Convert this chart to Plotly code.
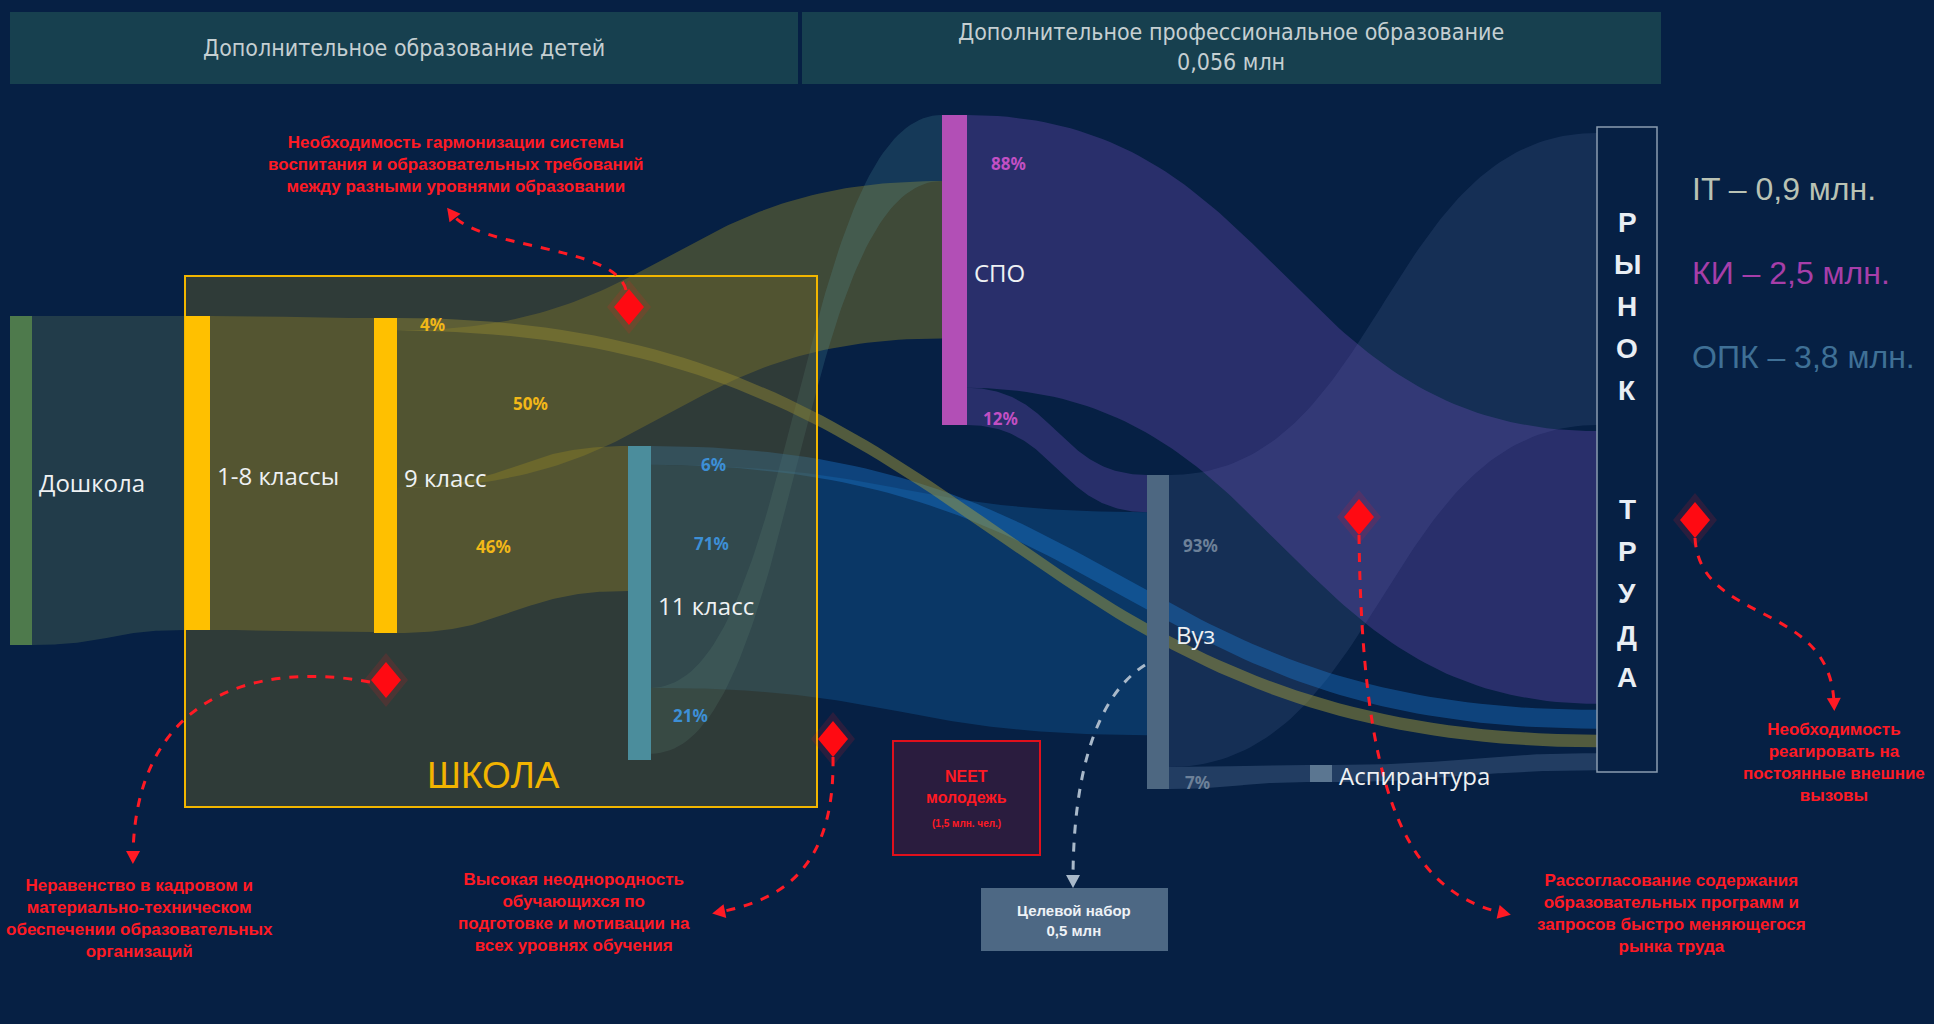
import numpy as np
import plotly.graph_objects as go

# ---------------- data ----------------
NODES = ["Дошкола", "1-8 классы", "9 класс", "11 класс", "СПО", "Вуз",
         "Аспирантура", "Рынок труда"]

FLOW_SOURCE = ["Дошкола", "1-8 классы", "9 класс", "9 класс", "9 класс",
               "11 класс", "11 класс", "11 класс", "СПО", "СПО",
               "Вуз", "Вуз", "Аспирантура"]
FLOW_TARGET = ["1-8 классы", "9 класс", "Рынок труда", "СПО", "11 класс",
               "Рынок труда", "Вуз", "СПО", "Рынок труда", "Вуз",
               "Рынок труда", "Аспирантура", "Рынок труда"]
FLOW_SHARE = [100, 100, 4, 50, 46, 6, 71, 21, 88, 12, 93, 7, 100]
FLOW_SHOW_LABEL = [False, False, True, True, True, True, True, True,
                   True, True, True, True, False]

MARKET_SECTORS = ["IT", "КИ", "ОПК"]
MARKET_DEMAND_MLN = [0.9, 2.5, 3.8]
DPO_MLN = 0.056
NEET_MLN = 1.5
TARGET_ADMISSION_MLN = 0.5

# ---------------- layout & style ----------------
W, H = 1934, 1024
BG = "#062044"

# x_left, x_right, y_top, y_bottom (page pixels)
NODE_BOX = {
    "Дошкола": (10, 32, 316, 645),
    "1-8 классы": (185, 210, 316, 630),
    "9 класс": (374, 397, 318, 633),
    "11 класс": (628, 651, 446, 760),
    "СПО": (942, 967, 115, 425),
    "Вуз": (1147, 1169, 475, 789),
    "Аспирантура": (1310, 1332, 765, 782),
    "Рынок труда": (1597, 1657, 127, 772),
}
NODE_COLOR = {
    "Дошкола": "#4e7a4c",
    "1-8 классы": "#ffc000",
    "9 класс": "#ffc000",
    "11 класс": "#4b8d9c",
    "СПО": "#b24fb6",
    "Вуз": "#4d6781",
    "Аспирантура": "#5b7691",
}
TARGET_ORDER = {
    "Рынок труда": ["Вуз", "СПО", "11 класс", "9 класс", "Аспирантура"],
    "СПО": ["11 класс", "9 класс"],
    "Вуз": ["СПО", "11 класс"],
}
TARGET_PAD = {"Рынок труда": 6}

FLOW_STYLE = {  # fill colour, drawing order
    ("Дошкола", "1-8 классы"): ("rgba(100,125,90,0.30)", 0),
    ("1-8 классы", "9 класс"): ("rgba(195,172,30,0.32)", 1),
    ("Вуз", "Рынок труда"): ("rgba(105,135,185,0.15)", 2),
    ("СПО", "Рынок труда"): ("rgba(120,82,195,0.31)", 3),
    ("СПО", "Вуз"): ("rgba(120,82,195,0.30)", 4),
    ("9 класс", "СПО"): ("rgba(195,172,30,0.30)", 5),
    ("9 класс", "11 класс"): ("rgba(195,172,30,0.32)", 6),
    ("11 класс", "Вуз"): ("rgba(20,115,190,0.28)", 7),
    ("11 класс", "СПО"): ("rgba(95,170,185,0.18)", 8),
    ("Вуз", "Аспирантура"): ("rgba(100,130,170,0.30)", 9),
    ("Аспирантура", "Рынок труда"): ("rgba(100,130,170,0.30)", 10),
    ("11 класс", "Рынок труда"): ("rgba(30,125,215,0.38)", 11),
    ("9 класс", "Рынок труда"): ("rgba(175,165,55,0.45)", 12),
}
# percentage label spot: x offset from source edge, fraction across band
LABEL_SPOT = {
    ("9 класс", "Рынок труда"): (35, 0.5),
    ("9 класс", "СПО"): (133, 0.56),
    ("9 класс", "11 класс"): (96, 0.5),
    ("11 класс", "Рынок труда"): (62, 0.9),
    ("11 класс", "Вуз"): (60, 0.35),
    ("11 класс", "СПО"): (39, 0.66),
    ("СПО", "Рынок труда"): (41, 0.17),
    ("СПО", "Вуз"): (33, 0.7),
    ("Вуз", "Рынок труда"): (31, 0.25),
    ("Вуз", "Аспирантура"): (28, 0.7),
}
LABEL_COLOR = {"9 класс": "#f2b818", "11 класс": "#3d8fd6",
               "СПО": "#c24fc4", "Вуз": "#6d8199"}

RED = "#ff1a24"


def bez(p0, p1, p2, p3, t):
    mt = 1 - t
    return mt ** 3 * p0 + 3 * mt ** 2 * t * p1 + 3 * mt * t ** 2 * p2 + t ** 3 * p3


def ribbon(x0, a0, b0, x1, a1, b1, n=90):
    t = np.linspace(0, 1, n)
    xm = (x0 + x1) / 2
    xs = bez(x0, xm, xm, x1, t)
    return xs, bez(a0, a0, a1, a1, t), bez(b0, b0, b1, b1, t)


# stack outgoing flows at each source
cursor = {n: NODE_BOX[n][2] for n in NODES}
bands = []
for s, t, p, lab in zip(FLOW_SOURCE, FLOW_TARGET, FLOW_SHARE, FLOW_SHOW_LABEL):
    top, bot = NODE_BOX[s][2], NODE_BOX[s][3]
    w = (bot - top) * p / 100
    bands.append(dict(s=s, t=t, p=p, lab=lab, a0=cursor[s], w=w))
    cursor[s] += w

# stack incoming flows at each target
for tname in NODES:
    idx = [i for i, b in enumerate(bands) if b["t"] == tname]
    if tname in TARGET_ORDER:
        idx.sort(key=lambda i: TARGET_ORDER[tname].index(bands[i]["s"]))
    pad = TARGET_PAD.get(tname, 0)
    th = NODE_BOX[tname][3] - NODE_BOX[tname][2]
    cur = NODE_BOX[tname][2] + pad
    for i in idx:
        wt = min(bands[i]["w"], th)
        bands[i]["a1"], bands[i]["w1"] = cur, wt
        cur += wt + pad

fig = go.Figure()
annotations = []

for b in sorted(bands, key=lambda b: FLOW_STYLE[(b["s"], b["t"])][1]):
    sx = NODE_BOX[b["s"]][1]
    tx = NODE_BOX[b["t"]][0]
    xs, top, bot = ribbon(sx, b["a0"], b["a0"] + b["w"], tx, b["a1"], b["a1"] + b["w1"])
    fig.add_trace(go.Scatter(
        x=np.concatenate([xs, xs[::-1]]), y=np.concatenate([top, bot[::-1]]),
        mode="lines", fill="toself", fillcolor=FLOW_STYLE[(b["s"], b["t"])][0],
        line=dict(width=0), hoverinfo="skip", showlegend=False))
    if b["lab"]:
        dx, frac = LABEL_SPOT[(b["s"], b["t"])]
        lx = sx + dx
        yt, yb = np.interp(lx, xs, top), np.interp(lx, xs, bot)
        annotations.append(dict(
            x=lx, y=yt + frac * (yb - yt), text=f"<b>{b['p']}%</b>", showarrow=False,
            font=dict(family="Noto Sans", size=17, color=LABEL_COLOR[b["s"]])))

shapes = []
# header strips
shapes.append(dict(type="rect", x0=10, x1=798, y0=12, y1=84, fillcolor="#17404f",
                   line=dict(width=0), layer="below"))
shapes.append(dict(type="rect", x0=802, x1=1661, y0=12, y1=84, fillcolor="#17404f",
                   line=dict(width=0), layer="below"))
# school frame
shapes.append(dict(type="rect", x0=185, x1=817, y0=276, y1=807,
                   fillcolor="rgba(110,100,40,0.40)", line=dict(color="#f2b600", width=2),
                   layer="above"))
# nodes
for n, col in NODE_COLOR.items():
    x0, x1, y0, y1 = NODE_BOX[n]
    shapes.append(dict(type="rect", x0=x0, x1=x1, y0=y0, y1=y1, fillcolor=col,
                       line=dict(width=0), layer="above"))
rx0, rx1, ry0, ry1 = NODE_BOX["Рынок труда"]
shapes.append(dict(type="rect", x0=rx0, x1=rx1, y0=ry0, y1=ry1, fillcolor=BG,
                   line=dict(color="#8a9cb0", width=1.5), layer="above"))
# NEET and target-admission boxes
shapes.append(dict(type="rect", x0=893, x1=1040, y0=741, y1=855, fillcolor="#2a1c3e",
                   line=dict(color="#e0101c", width=2), layer="above"))
shapes.append(dict(type="rect", x0=981, x1=1168, y0=888, y1=951, fillcolor="#4d6884",
                   line=dict(width=0), layer="above"))

# dashed connectors: start, control 1, control 2, end, colour
CONNECTORS = [
    ((626, 290), (615, 245), (480, 250), (452, 214), RED),
    ((370, 682), (250, 660), (135, 700), (133, 856), RED),
    ((833, 757), (835, 870), (780, 900), (720, 912), RED),
    ((1359, 535), (1362, 780), (1400, 890), (1503, 913), RED),
    ((1695, 538), (1700, 625), (1830, 600), (1834, 703), RED),
    ((1145, 665), (1090, 700), (1073, 790), (1073, 880), "#a9b9ca"),
]
for p0, c1, c2, p3, col in CONNECTORS:
    shapes.append(dict(type="path", layer="above",
                       path=f"M {p0[0]},{p0[1]} C {c1[0]},{c1[1]} {c2[0]},{c2[1]} {p3[0]},{p3[1]}",
                       line=dict(color=col, width=3, dash="dash")))
    d = np.array(p3, float) - np.array(c2, float)
    d /= np.linalg.norm(d)
    nrm = np.array([-d[1], d[0]])
    tip = np.array(p3, float) + d * 8
    base = tip - d * 13
    l, r = base + nrm * 7, base - nrm * 7
    shapes.append(dict(type="path", layer="above", fillcolor=col, line=dict(width=0),
                       path=f"M {tip[0]},{tip[1]} L {l[0]},{l[1]} L {r[0]},{r[1]} Z"))

# red diamonds with soft glow
DIAMONDS = [(629, 307), (386, 680), (833, 739), (1359, 517), (1695, 520)]
for cx, cy in DIAMONDS:
    for hw, hh, col in [(22, 27, "rgba(255,20,30,0.14)"), (15, 18, "#ff0a12")]:
        shapes.append(dict(type="path", layer="above", fillcolor=col, line=dict(width=0),
                           path=f"M {cx},{cy-hh} L {cx+hw},{cy} L {cx},{cy+hh} L {cx-hw},{cy} Z"))

# node labels
for n in ["Дошкола", "1-8 классы", "9 класс", "11 класс", "СПО", "Вуз", "Аспирантура"]:
    x0, x1, y0, y1 = NODE_BOX[n]
    annotations.append(dict(x=x1 + 5, y=(y0 + y1) / 2 + 2, text=n, showarrow=False,
                            xanchor="left",
                            font=dict(family="Open Sans", size=24, color="#eef1f3")))

# labour market box lettering
LETTER_STEP = 42
for k, ch in enumerate("РЫНОК"):
    annotations.append(dict(x=(rx0 + rx1) / 2, y=222 + k * LETTER_STEP,
                            text=f"<b>{ch}</b>", showarrow=False,
                            font=dict(family="Liberation Sans", size=28, color="#e9eef4")))
for k, ch in enumerate("ТРУДА"):
    annotations.append(dict(x=(rx0 + rx1) / 2, y=509 + k * LETTER_STEP,
                            text=f"<b>{ch}</b>", showarrow=False,
                            font=dict(family="Liberation Sans", size=28, color="#e9eef4")))

# market demand list
DEMAND_COLOR = ["#b9c2b4", "#a63ea9", "#3f7096"]
for k, (sec, val) in enumerate(zip(MARKET_SECTORS, MARKET_DEMAND_MLN)):
    annotations.append(dict(x=1690, y=189 + k * 84, xanchor="left", showarrow=False,
                            text=f"{sec} – {str(val).replace('.', ',')} млн.",
                            font=dict(family="Liberation Sans", size=32, color=DEMAND_COLOR[k])))

# header captions
HEAD_FONT = dict(family="Liberation Sans Narrow, DejaVu Sans Condensed", size=23, color="#c5cfd2")
annotations.append(dict(x=404, y=48, showarrow=False, text="Дополнительное образование детей",
                        font=HEAD_FONT))
annotations.append(dict(x=1231, y=47, showarrow=False,
                        text="Дополнительное профессиональное образование<br>"
                             + f"{DPO_MLN:.3f}".replace(".", ",") + " млн",
                        font=HEAD_FONT))

annotations.append(dict(x=493, y=775, showarrow=False, text="ШКОЛА",
                        font=dict(family="Liberation Sans", size=37, color="#f2b400")))

# NEET and target admission captions
annotations.append(dict(x=966, y=787, showarrow=False,
                        text="<b>NEET<br>молодежь</b>",
                        font=dict(family="Liberation Sans", size=16, color=RED)))
annotations.append(dict(x=966, y=823, showarrow=False,
                        text=f"<b>({str(NEET_MLN).replace('.', ',')} млн. чел.)</b>",
                        font=dict(family="Liberation Sans", size=10, color=RED)))
annotations.append(dict(x=1074, y=920, showarrow=False,
                        text=f"<b>Целевой набор<br>{str(TARGET_ADMISSION_MLN).replace('.', ',')} млн</b>",
                        font=dict(family="Liberation Sans", size=15, color="#eef2f6")))

# problem callouts
CALLOUTS = [
    (456, 164, "Необходимость гармонизации системы<br>воспитания и образовательных требований<br>между разными уровнями образовании"),
    (139, 918, "Неравенство в кадровом и<br>материально-техническом<br>обеспечении образовательных<br>организаций"),
    (574, 912, "Высокая неоднородность<br>обучающихся по<br>подготовке и мотивации на<br>всех уровнях обучения"),
    (1671, 913, "Рассогласование содержания<br>образовательных программ и<br>запросов быстро меняющегося<br>рынка труда"),
    (1834, 762, "Необходимость<br>реагировать на<br>постоянные внешние<br>вызовы"),
]
for x, y, txt in CALLOUTS:
    annotations.append(dict(x=x, y=y, showarrow=False, text=f"<b>{txt}</b>",
                            font=dict(family="Liberation Sans", size=17, color=RED)))

fig.update_layout(
    width=W, height=H, margin=dict(l=0, r=0, t=0, b=0),
    paper_bgcolor=BG, plot_bgcolor=BG, showlegend=False,
    xaxis=dict(range=[0, W], visible=False, fixedrange=True),
    yaxis=dict(range=[H, 0], visible=False, fixedrange=True),
    shapes=shapes, annotations=annotations,
)

fig.write_html("out.html")
